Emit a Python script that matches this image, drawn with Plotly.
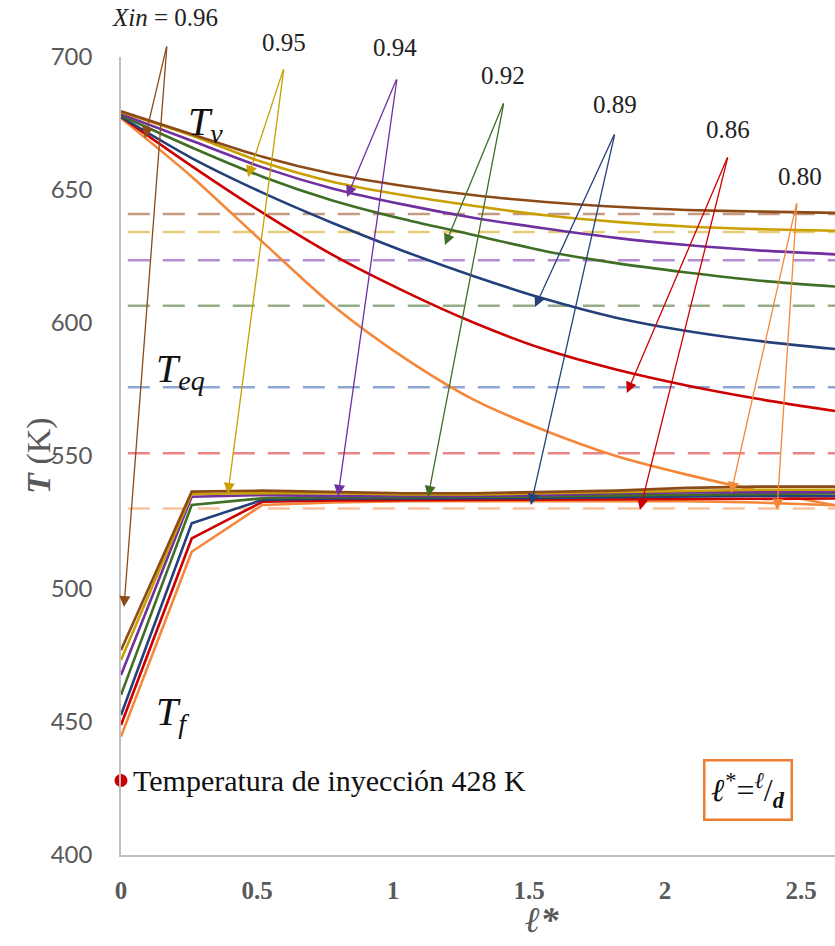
import plotly.graph_objects as go

# ---------------- data ----------------
x_grid = [0, 0.26, 0.52, 0.78, 1.04, 1.30, 1.56, 1.82, 2.08, 2.34, 2.625]

xin_labels = ["0.96", "0.95", "0.94", "0.92", "0.89", "0.86", "0.80"]

tv_096 = [679.6, 671.0, 662.5, 656.0, 651.5, 648.0, 645.5, 643.7, 642.5, 641.9, 641.4]
tv_095 = [679.3, 670.5, 660.5, 653.0, 648.0, 644.0, 640.5, 638.0, 636.3, 635.3, 634.7]
tv_094 = [678.5, 668.5, 658.5, 650.5, 644.5, 639.5, 635.5, 632.0, 629.3, 627.3, 625.8]
tv_092 = [678.0, 666.0, 655.0, 646.0, 639.0, 633.0, 627.0, 622.5, 619.0, 616.0, 613.7]
tv_089 = [677.5, 662.0, 649.0, 637.5, 627.0, 617.5, 609.0, 602.0, 597.0, 593.3, 590.2]
tv_086 = [677.5, 659.0, 641.5, 625.5, 612.0, 600.0, 590.0, 582.5, 576.5, 571.5, 566.9]
tv_080 = [677.0, 655.0, 630.5, 606.5, 587.0, 571.0, 559.5, 550.0, 543.0, 537.0, 531.5]

tf_096 = [477.0, 536.6, 537.0, 536.5, 536.0, 536.0, 536.5, 537.0, 538.0, 538.5, 538.5]
tf_095 = [473.3, 535.7, 536.0, 536.0, 535.5, 535.5, 536.0, 536.5, 537.0, 537.3, 537.3]
tf_094 = [467.7, 534.7, 535.3, 535.0, 535.0, 535.0, 535.3, 536.0, 536.3, 536.5, 536.5]
tf_092 = [460.2, 531.6, 534.1, 534.5, 534.5, 534.6, 534.8, 535.2, 535.5, 535.8, 536.0]
tf_089 = [452.6, 524.7, 533.5, 534.0, 534.0, 534.0, 534.2, 534.5, 534.8, 535.0, 535.0]
tf_086 = [448.9, 519.0, 532.8, 533.3, 533.4, 533.5, 533.7, 533.8, 534.0, 534.0, 534.0]
tf_080 = [444.5, 514.0, 531.6, 532.5, 533.0, 533.0, 533.2, 533.2, 533.0, 532.5, 531.5]

teq = [641.0, 634.2, 623.6, 606.5, 575.8, 551.0, 530.3]
teq_x = [0.025, 2.625]

inj_x = [0]
inj_T = [428]

x_ticks = [0, 0.5, 1, 1.5, 2, 2.5]
x_ticklabels = ["0", "0.5", "1", "1.5", "2", "2.5"]
y_ticks = [400, 450, 500, 550, 600, 650, 700]

# annotation geometry (data coordinates)
label_x = [0.162, 0.599, 1.007, 1.404, 1.816, 2.232, 2.496]
label_y = [714.7, 705.6, 703.4, 693.2, 682.0, 672.6, 654.9]
apex_x = [0.169, 0.599, 1.015, 1.408, 1.816, 2.232, 2.485]
apex_y = [704.5, 695.9, 692.1, 683.1, 671.4, 662.8, 645.5]
tipv_x = [0.088, 0.467, 0.831, 1.191, 1.522, 1.860, 2.243]
tipv_y = [669.5, 654.9, 647.4, 629.3, 606.0, 573.7, 536.1]
tipf_x = [0.011, 0.393, 0.798, 1.129, 1.507, 1.908, 2.412]
tipf_y = [493.2, 535.7, 535.0, 534.6, 531.6, 529.7, 529.7]

# ---------------- styles ----------------
colors = ["#8C4A17", "#C9A000", "#7030A0", "#3F6E25", "#24407A", "#CC0000", "#F4873A"]
dash_colors = ["#C49A80", "#E6CB78", "#B48CD2", "#96AE88", "#8EA6D6", "#E88484", "#F8C3A0"]

tv_all = [tv_096, tv_095, tv_094, tv_092, tv_089, tv_086, tv_080]
tf_all = [tf_096, tf_095, tf_094, tf_092, tf_089, tf_086, tf_080]

Y0, Y1 = 400, 700


def py(T):
    return (T - Y0) / (Y1 - Y0)


fig = go.Figure()

for i in range(6, -1, -1):
    fig.add_trace(go.Scatter(x=teq_x, y=[teq[i], teq[i]], mode="lines",
                             line=dict(color=dash_colors[i], width=2.5, dash="22px,13px"),
                             showlegend=False, hoverinfo="skip"))

for i in range(6, -1, -1):
    fig.add_trace(go.Scatter(x=x_grid, y=tv_all[i], mode="lines",
                             line=dict(color=colors[i], width=2.6, shape="spline", smoothing=0.8),
                             showlegend=False))
for i in range(6, -1, -1):
    fig.add_trace(go.Scatter(x=x_grid, y=tf_all[i], mode="lines",
                             line=dict(color=colors[i], width=2.6),
                             showlegend=False))

fig.add_trace(go.Scatter(x=inj_x, y=inj_T, mode="markers",
                         marker=dict(color="#CC0000", size=13),
                         cliponaxis=False, showlegend=False))

serif = "Liberation Serif, Times New Roman, DejaVu Serif, serif"
annotations = []
for i in range(7):
    txt = "<i>Xin</i> = " + xin_labels[i] if i == 0 else xin_labels[i]
    annotations.append(dict(x=label_x[i], y=py(label_y[i]), xref="x", yref="paper", text=txt,
                            xanchor="center", yanchor="middle",
                            showarrow=False, font=dict(family=serif, size=25, color="#222222")))
    for tx, ty in [(tipv_x[i], tipv_y[i]), (tipf_x[i], tipf_y[i])]:
        annotations.append(dict(x=tx, y=ty, xref="x", yref="y", axref="x", ayref="y",
                                ax=apex_x[i], ay=apex_y[i], text="", showarrow=True,
                                arrowhead=2, arrowsize=1.7, arrowwidth=1.3,
                                arrowcolor=colors[i], standoff=0, startstandoff=0))

annotations += [
    dict(x=0.31, y=675, xref="x", yref="y", text="<i>T</i><sub><i>v</i></sub>", showarrow=False,
         font=dict(family=serif, size=40, color="#111111")),
    dict(x=0.22, y=582, xref="x", yref="y", text="<i>T</i><sub><i>eq</i></sub>", showarrow=False,
         font=dict(family=serif, size=40, color="#111111")),
    dict(x=0.19, y=453, xref="x", yref="y", text="<i>T</i><sub><i>f</i></sub>", showarrow=False,
         font=dict(family=serif, size=40, color="#111111")),
    dict(x=0.035, y=428, xref="x", yref="y", xanchor="left", text="Temperatura de inyección 428 K",
         showarrow=False, font=dict(family=serif, size=30, color="#111111")),
    dict(x=2.305, y=424.5, xref="x", yref="y", xanchor="center", yanchor="middle",
         text="<b><i>ℓ</i></b><sup>*</sup>=<sup><i>ℓ</i></sup>/<sub><b><i>d</i></b></sub>",
         showarrow=False, bordercolor="#ED7D31", borderwidth=2.5, borderpad=6,
         font=dict(family=serif, size=32, color="#111111")),
    # axis titles
    dict(x=0.59, y=-0.082, xref="paper", yref="paper", text="<b><i>ℓ*</i></b>", showarrow=False,
         xanchor="center", yanchor="middle",
         font=dict(family=serif, size=36, color="#595959")),
    dict(x=-0.115, y=0.5, xref="paper", yref="paper", text="<b><i>T</i></b> (K)", showarrow=False,
         xanchor="center", yanchor="middle",
         textangle=-90, font=dict(family=serif, size=34, color="#595959")),
]

fig.update_layout(
    width=835, height=946,
    margin=dict(l=121, r=0, t=57, b=91, autoexpand=False),
    plot_bgcolor="white", paper_bgcolor="white",
    annotations=annotations,
    xaxis=dict(range=[0, 2.625], tickvals=x_ticks,
               ticktext=["<b>" + t + "</b>" for t in x_ticklabels],
               showgrid=False, zeroline=False, showline=True, linecolor="#BFBFBF", linewidth=1.5,
               ticks="", ticklabelstandoff=12, automargin=False,
               tickfont=dict(family=serif, size=25, color="#595959")),
    yaxis=dict(range=[Y0, Y1], tickvals=y_ticks,
               showgrid=False, zeroline=False, showline=True, linecolor="#BFBFBF", linewidth=1.5,
               ticks="", ticklabelstandoff=22, automargin=False,
               tickfont=dict(family="Lato", size=24, color="#595959")),
)

fig.write_html("out.html", config={"displayModeBar": False},
               post_script="document.body.style.margin='0px';document.body.style.overflow='hidden';")
